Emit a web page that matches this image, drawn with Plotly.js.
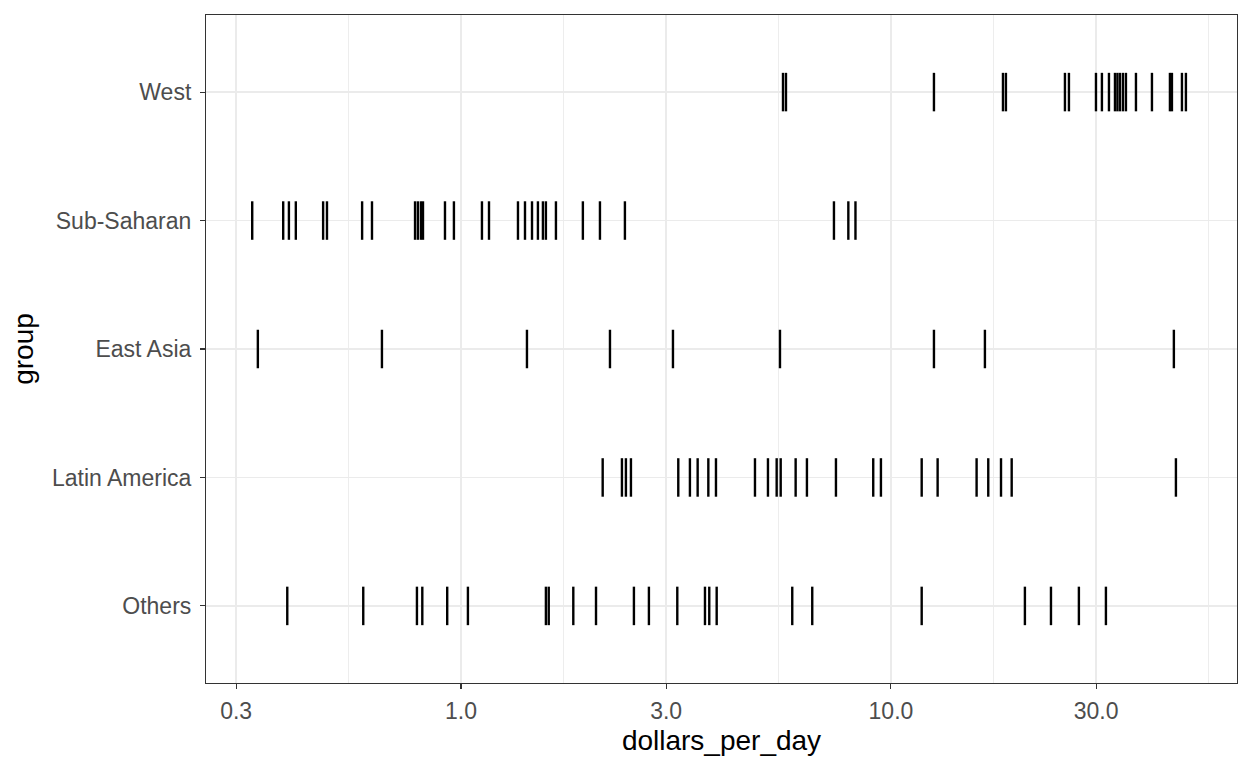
<!DOCTYPE html>
<html><head><meta charset="utf-8">
<script src="https://cdn.plot.ly/plotly-3.0.1.min.js"></script>
<style>html,body{margin:0;padding:0;background:#fff;}</style>
</head><body>
<div id="chart" style="width:1248px;height:768px;"></div>
<script>
// Group order bottom -> top
const groups = ["Others", "Latin America", "East Asia", "Sub-Saharan", "West"];

// dollars_per_day values, per group
const westValues = [5.61, 5.70, 12.59, 18.22, 18.51, 25.39, 25.94, 29.98, 30.95, 32.14, 33.19, 33.63, 34.09, 34.64, 35.20, 37.14, 40.46, 44.55, 45.03, 47.51, 48.53];
const subSaharanValues = [0.327, 0.386, 0.398, 0.413, 0.478, 0.488, 0.589, 0.621, 0.782, 0.794, 0.807, 0.816, 0.918, 0.963, 1.119, 1.162, 1.357, 1.409, 1.463, 1.510, 1.551, 1.576, 1.663, 1.921, 2.105, 2.406, 7.37, 7.96, 8.27];
const eastAsiaValues = [0.337, 0.655, 1.424, 2.221, 3.112, 5.52, 12.59, 16.54, 45.5];
const latinAmericaValues = [2.136, 2.368, 2.419, 2.485, 3.202, 3.408, 3.552, 3.761, 3.918, 4.828, 5.176, 5.423, 5.541, 6.003, 6.377, 7.449, 9.095, 9.478, 11.79, 12.84, 15.82, 16.84, 18.03, 19.09, 46.0];
const othersValues = [0.3945, 0.5926, 0.790, 0.813, 0.929, 1.038, 1.576, 1.600, 1.825, 2.061, 2.525, 2.736, 3.185, 3.694, 3.780, 3.933, 5.895, 6.561, 11.79, 20.49, 23.56, 27.36, 31.62];

const xTickVals = [0.3, 1, 3, 10, 30];
const xTickText = ["0.3", "1.0", "3.0", "10.0", "30.0"];

const seriesByGroup = {
  "Others": othersValues,
  "Latin America": latinAmericaValues,
  "East Asia": eastAsiaValues,
  "Sub-Saharan": subSaharanValues,
  "West": westValues
};

const traces = groups.map(g => ({
  type: "scatter",
  mode: "markers",
  x: seriesByGroup[g],
  y: seriesByGroup[g].map(() => g),
  marker: {symbol: "line-ns", size: 27.5, color: "black", line: {color: "black", width: 2.4}},
  hoverinfo: "x+y",
  showlegend: false
}));

// ggplot-style minor breaks: midway (in log space) between major breaks
const minorVals = xTickVals.map((v, i) =>
  Math.sqrt(v * (i + 1 < xTickVals.length ? xTickVals[i + 1] : v * 10 / 3)));

const font = "Liberation Sans, Arial, Helvetica, sans-serif";

const layout = {
  width: 1248, height: 768,
  paper_bgcolor: "white", plot_bgcolor: "white",
  margin: {l: 206, r: 11, t: 15, b: 85},
  showlegend: false,
  font: {family: font, color: "#4D4D4D"},
  xaxis: {
    type: "log",
    range: [Math.log10(0.2553), Math.log10(63.8)],
    tickmode: "array", tickvals: xTickVals, ticktext: xTickText,
    tickfont: {size: 23, color: "#4D4D4D", family: font},
    ticks: "outside", ticklen: 5, tickwidth: 1.1, tickcolor: "#333333",
    ticklabelstandoff: 2,
    showgrid: true, gridcolor: "#EBEBEB", gridwidth: 1.8,
    minor: {tickmode: "array", tickvals: minorVals, showgrid: true, gridcolor: "#EBEBEB", gridwidth: 0.9, ticks: ""},
    showline: true, mirror: true, linecolor: "#333333", linewidth: 1.1,
    zeroline: false,
    title: {text: "dollars_per_day", font: {size: 28, color: "black", family: font}, standoff: 7}
  },
  yaxis: {
    type: "category",
    categoryorder: "array", categoryarray: groups,
    range: [-0.6, 4.6],
    tickfont: {size: 23, color: "#4D4D4D", family: font},
    ticks: "outside", ticklen: 5, tickwidth: 1.1, tickcolor: "#333333",
    ticklabelstandoff: 4,
    showgrid: true, gridcolor: "#EBEBEB", gridwidth: 1.8,
    showline: true, mirror: true, linecolor: "#333333", linewidth: 1.1,
    zeroline: false,
    title: {text: "group", font: {size: 28, color: "black", family: font}, standoff: 10}
  }
};

Plotly.newPlot("chart", traces, layout, {displayModeBar: false, staticPlot: true});
</script>
</body></html>
